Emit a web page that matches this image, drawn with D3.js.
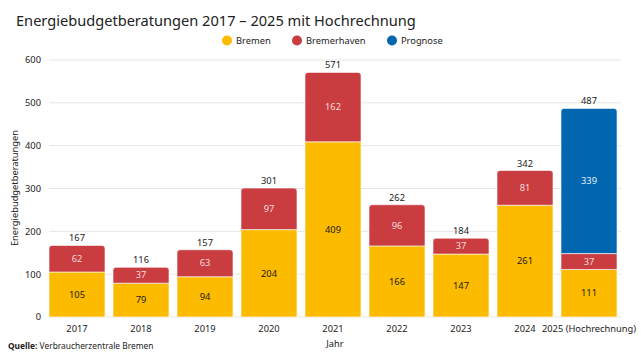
<!DOCTYPE html>
<html><head><meta charset="utf-8">
<script src="https://cdn.jsdelivr.net/npm/d3@7"></script>
<style>body{margin:0;background:#fff;} svg{font-family:"Noto Sans",sans-serif;}</style>
</head><body><svg id="c" width="641" height="358"></svg>
<script>
const years = ["2017","2018","2019","2020","2021","2022","2023","2024","2025 (Hochrechnung)"];
const bremen = [105,79,94,204,409,166,147,261,111];
const bremerhaven = [62,37,63,97,162,96,37,81,37];
const prognose = [0,0,0,0,0,0,0,0,339];
const yTicks = [0,100,200,300,400,500,600];
const seriesNames = ["Bremen","Bremerhaven","Prognose"];
const colors = ["#FDBB00","#C93C40","#0066B0"];
const labelColors = ["#1a1a1a","#f6dcdc","#e6eef8"];
const FF = "Noto Sans";
const FS = 9.3;

const svg = d3.select("#c");
const x = d3.scaleBand().domain(years).range([49, 617]).paddingInner(0.125).paddingOuter(0);
const y = d3.scaleLinear().domain([0,600]).range([317, 60]);

// grid
svg.append("g").selectAll("line").data(yTicks).join("line")
  .attr("x1", 49).attr("x2", 621).attr("y1", d=>y(d)).attr("y2", d=>y(d))
  .attr("stroke", "#e6e6e6").attr("stroke-width",1);

// y axis labels
const ya = svg.append("g").attr("transform",`translate(41,0)`)
  .call(d3.axisLeft(y).tickValues(yTicks).tickSize(0).tickPadding(0));
ya.select(".domain").remove();
ya.selectAll("text").attr("font-size",FS).attr("fill","#222").attr("font-family",FF);

// x axis
const xa = svg.append("g").attr("transform",`translate(0,317)`)
  .call(d3.axisBottom(x).tickSize(0).tickPadding(8));
xa.select(".domain").remove();
xa.selectAll("text").attr("font-size",FS).attr("fill","#222").attr("font-family",FF);

const data = years.map((yr,i)=>({year:yr, Bremen:bremen[i], Bremerhaven:bremerhaven[i], Prognose:prognose[i]}));
const stack = d3.stack().keys(seriesNames)(data);

function roundTop(x0,y0,w,h,r){
  r=Math.min(r,h,w/2);
  return `M${x0},${y0+h}V${y0+r}Q${x0},${y0} ${x0+r},${y0}H${x0+w-r}Q${x0+w},${y0} ${x0+w},${y0+r}V${y0+h}Z`;
}

stack.forEach((s,si)=>{
  const g = svg.append("g");
  s.forEach((d,i)=>{
    const v = d[1]-d[0];
    if(v<=0) return;
    let top = true;
    for(let k=si+1;k<stack.length;k++){ if(stack[k][i][1]-stack[k][i][0]>0) top=false; }
    const x0 = x(years[i]), w = x.bandwidth();
    const y0 = y(d[1]), h = y(d[0])-y(d[1]);
    g.append("path").attr("d", roundTop(x0,y0,w,h, top?3:0)).attr("fill", colors[si])
      .attr("stroke","#fff").attr("stroke-width",0.6);
    g.append("text").attr("x", x0+w/2).attr("y", (y0+y0+h)/2).attr("dy","0.35em")
      .attr("text-anchor","middle").attr("font-size",FS).attr("fill",labelColors[si]).text(v);
  });
});

// totals
svg.append("g").selectAll("text").data(data).join("text")
  .attr("x", d=>x(d.year)+x.bandwidth()/2)
  .attr("y", d=>y(d.Bremen+d.Bremerhaven+d.Prognose)-4)
  .attr("text-anchor","middle").attr("font-size",FS).attr("fill","#222")
  .text(d=>d.Bremen+d.Bremerhaven+d.Prognose);

// title
svg.append("text").attr("x",16).attr("y",26).attr("font-size",14.6).attr("fill","#222")
  .text("Energiebudgetberatungen 2017 – 2025 mit Hochrechnung");

// legend
const legX = [227, 297, 392];
const lg = svg.append("g");
seriesNames.forEach((n,i)=>{
  lg.append("circle").attr("cx",legX[i]).attr("cy",40.5).attr("r",5).attr("fill",colors[i]);
  lg.append("text").attr("x",legX[i]+9).attr("y",40.5).attr("dy","0.35em").attr("font-size",FS).attr("fill","#222").text(n);
});

// axis titles
svg.append("text").attr("transform",`translate(18,188) rotate(-90)`)
  .attr("text-anchor","middle").attr("font-size",FS).attr("fill","#222").text("Energiebudgetberatungen");
svg.append("text").attr("x",335).attr("y",347).attr("text-anchor","middle").attr("font-size",FS).attr("fill","#222").text("Jahr");

// source
const src = svg.append("text").attr("x",8).attr("y",349).attr("font-size",8.4).attr("fill","#222");
src.append("tspan").attr("font-weight","bold").text("Quelle:");
src.append("tspan").text(" Verbraucherzentrale Bremen");
</script></body></html>
